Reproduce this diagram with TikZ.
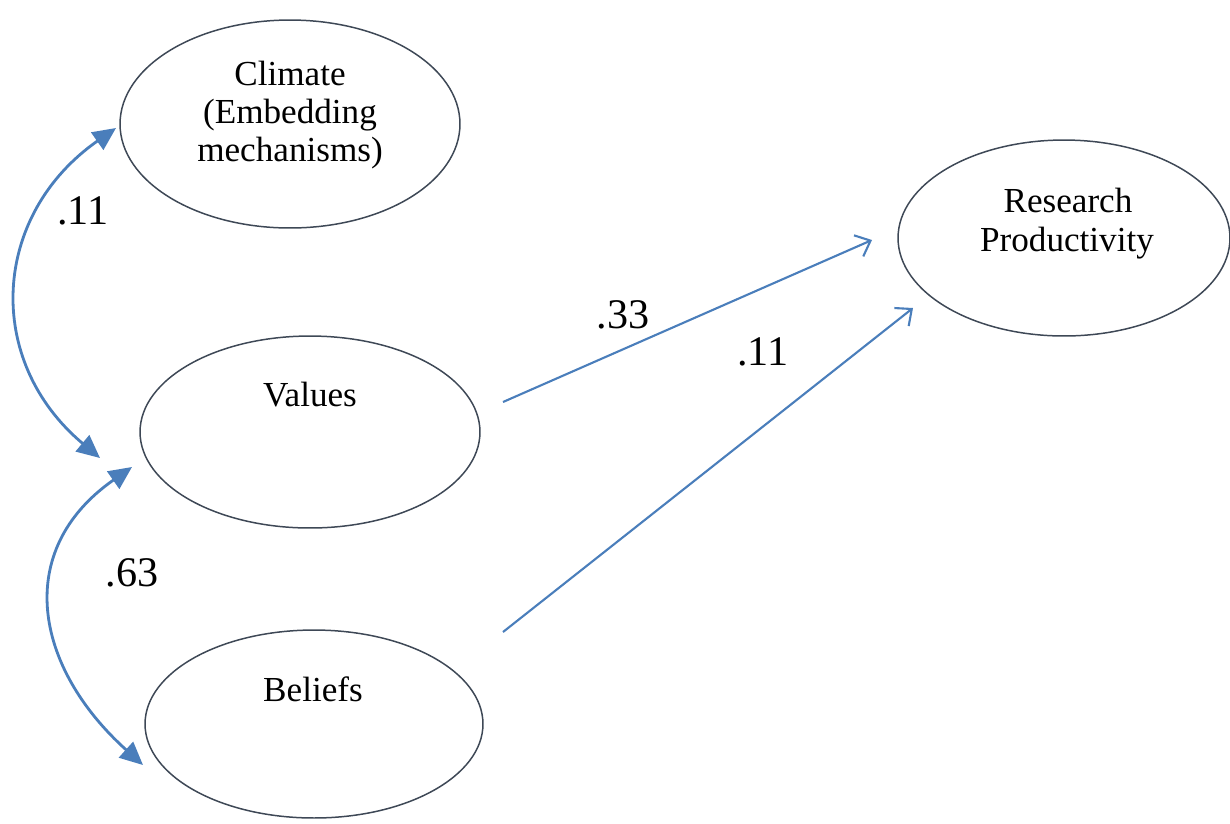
\documentclass[tikz,border=0pt]{standalone}
\usepackage{fontspec}
\setmainfont{Liberation Serif}
\usetikzlibrary{shapes.geometric,arrows.meta,calc}
\definecolor{pathblue}{HTML}{4A7EBB}
\definecolor{outline}{HTML}{3E4856}
\tikzset{
  construct/.style={ellipse, draw=outline, line width=0.85pt, inner sep=0pt, outer sep=0pt},
  caption/.style={anchor=base, inner sep=0pt, font=\fontsize{20}{22}\selectfont},
  coef/.style={anchor=base, inner sep=0pt, font=\fontsize{24}{26}\selectfont},
  corr/.style={draw=pathblue, line width=1.6pt, {Triangle[length=0.46cm,width=0.42cm]}-{Triangle[length=0.46cm,width=0.42cm]}},
  effect/.style={draw=pathblue, line width=1.2pt, -{Straight Barb[length=0.26cm,width=0.46cm]}}
}
\begin{document}
\begin{tikzpicture}[x=0.02cm,y=0.02cm]
\useasboundingbox (0,0) rectangle (1230,-823);

% latent constructs
\node[construct, minimum width=6.8cm, minimum height=4.16cm] (climate) at (290,-124) {};
\node[construct, minimum width=6.8cm, minimum height=3.84cm] (values) at (310,-432) {};
\node[construct, minimum width=6.76cm, minimum height=3.76cm] (beliefs) at (314,-724) {};
\node[construct, minimum width=6.64cm, minimum height=3.92cm] (research) at (1064,-238) {};

% construct names
\node[caption] (climate-l1) at (290,-85) {Climate};
\node[caption] (climate-l2) at (290,-123) {(Embedding};
\node[caption] (climate-l3) at (290,-161) {mechanisms)};
\node[caption] (values-l) at (310,-406) {Values};
\node[caption] (beliefs-l) at (313,-701) {Beliefs};
\node[caption] (research-l1) at (1068,-212) {Research};
\node[caption] (research-l2) at (1067,-251) {Productivity};

% connector end points
\coordinate (climate-in) at ($(climate.center)+(-174,-4)$);
\coordinate (values-in-top) at ($(values.center)+(-210,-26)$);
\coordinate (values-in-bot) at ($(values.center)+(-178,-35)$);
\coordinate (beliefs-in) at ($(beliefs.center)+(-171,-41)$);
\coordinate (values-out) at ($(values.center)+(193,30)$);
\coordinate (beliefs-out) at ($(beliefs.center)+(189,92)$);
\coordinate (research-in-top) at ($(research.center)+(-192,-2)$);
\coordinate (research-in-bot) at ($(research.center)+(-151,-70)$);

% correlations
\draw[corr] (climate-in) .. controls +(215:152) and +(140:152) .. (values-in-top);
\draw[corr] (values-in-bot) .. controls +(215:146) and +(138:146) .. (beliefs-in);

% direct effects
\draw[effect] (values-out) -- (research-in-top);
\draw[effect] (beliefs-out) -- (research-in-bot);

% coefficients
\node[coef] (r-cv) at (83,-224) {.11};
\node[coef] (r-vb) at (132,-586) {.63};
\node[coef] (b-v) at (623,-328) {.33};
\node[coef] (b-b) at (763,-365) {.11};
\end{tikzpicture}
\end{document}
